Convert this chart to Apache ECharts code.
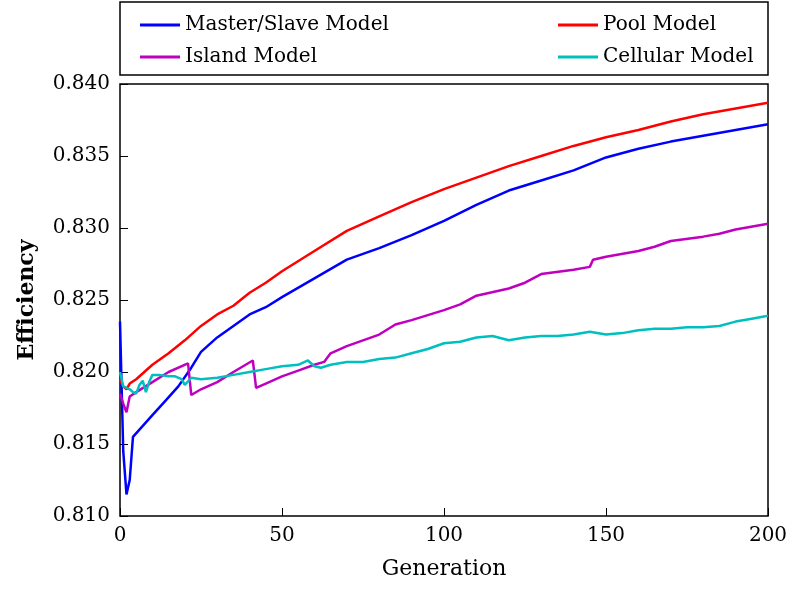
<!DOCTYPE html>
<html lang="en">
<head>
<meta charset="UTF-8">
<title>Efficiency</title>
<style>
  body { margin: 0; background: #fff; }
  #chart { width: 800px; height: 600px; }
</style>
</head>
<body>
<div id="chart"></div>
<script src="https://cdn.jsdelivr.net/npm/echarts@6/dist/echarts.min.js"></script>
<script>
var chart = echarts.init(document.getElementById('chart'));

// generations
var gensMaster = [0, 1, 2, 3, 4, 6, 8, 10, 14, 18, 22, 25, 30, 35, 40, 45, 50, 60, 70, 80, 90, 100, 110, 120, 130, 140, 150, 160, 170, 180, 190, 200];
var master = [0.8235, 0.8145, 0.8115, 0.8125, 0.8155, 0.8160, 0.8165, 0.8170, 0.8180, 0.8190, 0.8203, 0.8214, 0.8224, 0.8232, 0.8240, 0.8245, 0.8252, 0.8265, 0.8278, 0.8286, 0.8295, 0.8305, 0.8316, 0.8326, 0.8333, 0.8340, 0.8349, 0.8355, 0.8360, 0.8364, 0.8368, 0.8372];

var gensPool = [0, 1, 2, 3, 5, 10, 15, 20, 25, 30, 35, 40, 45, 50, 60, 70, 80, 90, 100, 110, 120, 130, 140, 150, 160, 170, 180, 190, 200];
var pool = [0.8195, 0.8190, 0.8188, 0.8192, 0.8195, 0.8205, 0.8213, 0.8222, 0.8232, 0.8240, 0.8246, 0.8255, 0.8262, 0.8270, 0.8284, 0.8298, 0.8308, 0.8318, 0.8327, 0.8335, 0.8343, 0.8350, 0.8357, 0.8363, 0.8368, 0.8374, 0.8379, 0.8383, 0.8387];

var gensIsland = [0, 1, 2, 3, 5, 10, 15, 21, 22, 25, 30, 35, 41, 42, 45, 50, 55, 60, 63, 65, 70, 80, 85, 90, 100, 105, 110, 120, 125, 130, 140, 145, 146, 150, 160, 165, 170, 180, 185, 190, 200];
var island = [0.8185, 0.8178, 0.8172, 0.8183, 0.8186, 0.8193, 0.8200, 0.8206, 0.8184, 0.8188, 0.8193, 0.8200, 0.8208, 0.8189, 0.8192, 0.8197, 0.8201, 0.8205, 0.8207, 0.8213, 0.8218, 0.8226, 0.8233, 0.8236, 0.8243, 0.8247, 0.8253, 0.8258, 0.8262, 0.8268, 0.8271, 0.8273, 0.8278, 0.8280, 0.8284, 0.8287, 0.8291, 0.8294, 0.8296, 0.8299, 0.8303];

var gensCell = [0, 1, 2, 3, 4, 5, 6, 7, 8, 9, 10, 12, 15, 17, 19, 20, 22, 25, 30, 35, 40, 45, 50, 55, 58, 60, 62, 65, 70, 75, 80, 85, 90, 95, 100, 105, 110, 115, 120, 125, 130, 135, 140, 145, 150, 155, 160, 165, 170, 175, 180, 185, 190, 195, 200];
var cellular = [0.8200, 0.8190, 0.8189, 0.8188, 0.8186, 0.8185, 0.8191, 0.8194, 0.8186, 0.8193, 0.8198, 0.8198, 0.8197, 0.8197, 0.8195, 0.8191, 0.8196, 0.8195, 0.8196, 0.8198, 0.8200, 0.8202, 0.8204, 0.8205, 0.8208, 0.8204, 0.8203, 0.8205, 0.8207, 0.8207, 0.8209, 0.8210, 0.8213, 0.8216, 0.8220, 0.8221, 0.8224, 0.8225, 0.8222, 0.8224, 0.8225, 0.8225, 0.8226, 0.8228, 0.8226, 0.8227, 0.8229, 0.8230, 0.8230, 0.8231, 0.8231, 0.8232, 0.8235, 0.8237, 0.8239];

var xTicks = [0, 50, 100, 150, 200];
var yTicks = [0.810, 0.815, 0.820, 0.825, 0.830, 0.835, 0.840];

function pairs(xs, ys) {
  return xs.map(function (x, i) { return [x, ys[i]]; });
}

var font = 'DejaVu Serif';

function line(name, xs, ys, color) {
  return {
    name: name, type: 'line', data: pairs(xs, ys),
    showSymbol: false, symbol: 'none',
    lineStyle: { color: color, width: 2.5 },
    itemStyle: { color: color }
  };
}

var legendBase = {
  orient: 'vertical', itemWidth: 40, itemHeight: 3, itemGap: 12,
  icon: 'rect',
  textStyle: { fontFamily: font, fontSize: 20, color: '#000' }
};

var option = {
  animation: false,
  grid: { left: 120, right: 32, top: 84, bottom: 84, show: true, borderColor: '#000', borderWidth: 1.5, backgroundColor: 'transparent' },
  graphic: [{ type: 'rect', shape: { x: 120, y: 2, width: 648, height: 73 }, style: { fill: 'none', stroke: '#000', lineWidth: 1.5 } }],
  legend: [
    Object.assign({ left: 135, top: 10, data: ['Master/Slave Model', 'Island Model'] }, legendBase),
    Object.assign({ left: 553, top: 10, data: ['Pool Model', 'Cellular Model'] }, legendBase)
  ],
  xAxis: {
    type: 'value', min: 0, max: 200, interval: 50,
    name: 'Generation', nameLocation: 'middle', nameGap: 42,
    nameTextStyle: { fontFamily: font, fontSize: 22, color: '#000' },
    axisLine: { show: false }, splitLine: { show: false },
    axisTick: { inside: true, length: 8, lineStyle: { color: '#000' } },
    axisLabel: { fontFamily: font, fontSize: 20, color: '#000', margin: 10 }
  },
  yAxis: {
    type: 'value', min: 0.810, max: 0.840, interval: 0.005,
    name: 'Efficiency', nameLocation: 'middle', nameGap: 82, nameRotate: 90,
    nameTextStyle: { fontFamily: font, fontSize: 22, color: '#000', fontWeight: 'bold' },
    axisLine: { show: false }, splitLine: { show: false },
    axisTick: { inside: true, length: 8, lineStyle: { color: '#000' } },
    axisLabel: { fontFamily: font, fontSize: 20, color: '#000', margin: 10,
      formatter: function (v) { return v.toFixed(3); } }
  },
  series: [
    line('Master/Slave Model', gensMaster, master, '#0000ff'),
    line('Pool Model', gensPool, pool, '#ff0000'),
    line('Island Model', gensIsland, island, '#bf00bf'),
    line('Cellular Model', gensCell, cellular, '#00bfbf')
  ]
};

chart.setOption(option);
</script>
</body>
</html>
